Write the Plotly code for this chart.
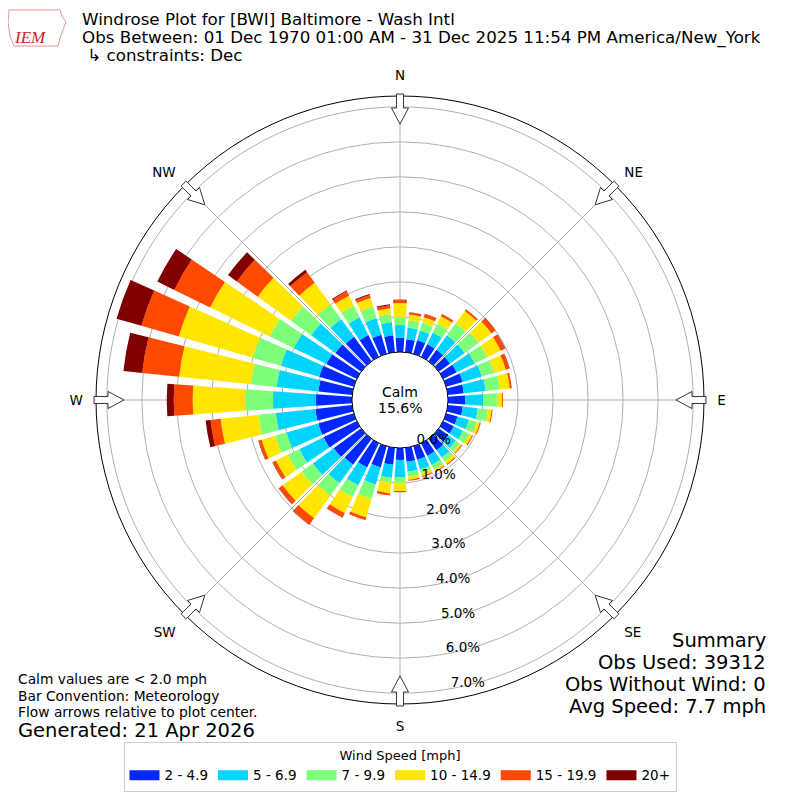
import numpy as np
import plotly.graph_objects as go

# wind direction bins (deg, meteorological) and speed classes
directions = list(range(0, 360, 10))
speed_bins = ['2 - 4.9', '5 - 6.9', '7 - 9.9', '10 - 14.9', '15 - 19.9', '20+']
colors = ['#0028ff', '#00d4ff', '#7dff7a', '#ffe600', '#ff4a00', '#800000']

# frequency (%) per direction for each speed class
spd_2_5 = [0.40, 0.37, 0.40, 0.40, 0.40, 0.40, 0.43, 0.49, 0.46, 0.49, 0.43, 0.34,
           0.34, 0.34, 0.40, 0.40, 0.40, 0.40, 0.34, 0.49, 0.63, 0.77, 0.91, 0.97,
           1.06, 1.06, 1.06, 1.03, 0.97, 1.03, 0.97, 0.91, 0.86, 0.69, 0.57, 0.49]
spd_5_7 = [0.37, 0.34, 0.29, 0.37, 0.51, 0.51, 0.57, 0.57, 0.63, 0.51, 0.43, 0.34,
           0.29, 0.26, 0.26, 0.29, 0.29, 0.29, 0.49, 0.37, 0.51, 0.57, 0.66, 0.74,
           0.77, 0.94, 1.14, 1.23, 1.20, 1.14, 1.03, 0.86, 0.63, 0.57, 0.49, 0.37]
spd_7_10 = [0.23, 0.20, 0.23, 0.29, 0.43, 0.49, 0.40, 0.37, 0.40, 0.40, 0.29, 0.23,
            0.20, 0.14, 0.14, 0.14, 0.11, 0.14, 0.17, 0.14, 0.43, 0.37, 0.43, 0.40,
            0.37, 0.34, 0.49, 0.80, 0.74, 0.83, 0.77, 0.71, 0.51, 0.37, 0.34, 0.23]
spd_10_15 = [0.40, 0.17, 0.17, 0.23, 0.43, 0.46, 0.43, 0.34, 0.29, 0.14, 0.11, 0.09,
             0.09, 0.06, 0.09, 0.06, 0.09, 0.09, 0.23, 0.31, 0.54, 0.51, 0.80, 0.66,
             0.37, 0.40, 1.09, 1.49, 2.06, 2.20, 1.89, 1.17, 0.77, 0.31, 0.26, 0.17]
spd_15_20 = [0.09, 0.06, 0.09, 0.06, 0.06, 0.14, 0.14, 0.11, 0.06, 0.03, 0.03, 0.03,
             0.03, 0.03, 0.03, 0.03, 0.03, 0.03, 0.03, 0.06, 0.09, 0.14, 0.23, 0.14,
             0.11, 0.09, 0.29, 0.54, 1.06, 1.11, 1.14, 0.74, 0.37, 0.14, 0.09, 0.09]
spd_20p = [0.01, 0.01, 0.01, 0.01, 0.00, 0.01, 0.01, 0.01, 0.00, 0.00, 0.00, 0.00,
           0.00, 0.00, 0.00, 0.00, 0.00, 0.00, 0.00, 0.00, 0.00, 0.01, 0.01, 0.01,
           0.01, 0.01, 0.14, 0.20, 0.54, 0.74, 0.54, 0.31, 0.09, 0.03, 0.03, 0.03]
series = [spd_2_5, spd_5_7, spd_7_10, spd_10_15, spd_15_20, spd_20p]

ring_vals = [0, 1, 2, 3, 4, 5, 6, 7]
ring_text = ['%.1f%%<br> ' % v for v in ring_vals]
compass_deg = [0, 45, 90, 135, 180, 225, 270, 315]
compass_txt = ['N', 'NE', 'E', 'SE', 'S', 'SW', 'W', 'NW']
calm_pct = 15.6

FONT = 'DejaVu Sans'
W = 792  # page body has an 8px margin


def px(x):
    return (x - 8) / W


def py(y):
    return 1 - (y - 8) / W


fig = go.Figure()
for name, vals, col in zip(speed_bins, series, colors):
    fig.add_trace(go.Barpolar(r=vals, theta=directions, name=name, width=8,
                              marker=dict(color=col, line=dict(width=0)),
                              showlegend=False))
# wide legend swatches
for name, col in zip(speed_bins, colors):
    fig.add_trace(go.Scatterpolar(r=[None], theta=[None], mode='lines', name=name,
                                  line=dict(color=col, width=10)))

fig.update_layout(
    width=W, height=W,
    margin=dict(l=0, r=0, t=0, b=0),
    paper_bgcolor='white',
    font=dict(family=FONT, size=13, color='black'),
    barmode='stack',
    polar=dict(
        domain=dict(x=[px(96), px(704)], y=[py(704), py(96)]),
        bgcolor='white',
        hole=0.158,
        radialaxis=dict(range=[0, 7.31], tickvals=ring_vals, ticktext=ring_text,
                        angle=-82, tickangle=-82, side='counterclockwise',
                        showline=False, ticks='',
                        gridcolor='#b0b0b0', gridwidth=1, layer='above traces',
                        tickfont=dict(size=13.5)),
        angularaxis=dict(rotation=90, direction='clockwise',
                         tickvals=compass_deg, ticktext=compass_txt,
                         ticks='outside', ticklen=10, tickcolor='rgba(0,0,0,0)',
                         showline=True, linecolor='black', linewidth=1,
                         gridcolor='#b0b0b0', gridwidth=1, layer='above traces',
                         tickfont=dict(size=13.5)),
    ),
    legend=dict(orientation='h', x=px(400), xanchor='center', y=py(742), yanchor='top',
                title=dict(text='Wind Speed [mph]', side='top center', font=dict(size=13)),
                bordercolor='#cccccc', borderwidth=1, font=dict(size=13.5),
                itemwidth=30, traceorder='normal'),
)

# hollow flow arrows at the compass points
shapes = []
for d in compass_deg:
    a = np.radians(d)
    u = np.array([np.sin(a), -np.cos(a)])
    p = np.array([np.cos(a), np.sin(a)])
    pts = [(276, 0), (292, 8.5), (292, 3.5), (306, 3.5), (306, -3.5), (292, -3.5), (292, -8.5)]
    xy = [np.array([400, 400]) + r * u + w * p for r, w in pts]
    path = 'M ' + ' L '.join('%.4f %.4f' % (px(q[0]), py(q[1])) for q in xy) + ' Z'
    shapes.append(dict(type='path', path=path, xref='paper', yref='paper',
                       fillcolor='white', line=dict(color='#333333', width=1)))

# rough outline of the IEM logo (Iowa shape)
logo = [(9, 10), (60, 10), (62, 16), (66, 22), (63, 30), (60, 38), (58, 46), (14, 46), (10, 36), (8, 22)]
shapes.append(dict(type='path', xref='paper', yref='paper',
                   path='M ' + ' L '.join('%.4f %.4f' % (px(x), py(y)) for x, y in logo) + ' Z',
                   line=dict(color='#d99a9a', width=1)))
fig.update_layout(shapes=shapes)


def txt(s, x, y, size, xanchor='left', **kw):
    return dict(text=s, x=px(x), y=py(y), xanchor=xanchor, yanchor='middle',
                xref='paper', yref='paper', showarrow=False, font=dict(size=size, **kw))


ann = [
    txt('Windrose Plot for [BWI] Baltimore - Wash Intl', 80, 19, 16.7),
    txt('Obs Between: 01 Dec 1970 01:00 AM - 31 Dec 2025 11:54 PM America/New_York', 80, 37, 16.7),
    txt(' ↳ constraints: Dec', 80, 55, 16.7),
    txt('<i>IEM</i>', 30, 38, 17, xanchor='center', family='Liberation Serif', color='#d02020'),
    txt('Calm', 400, 392, 14, xanchor='center'),
    txt('%.1f%%' % calm_pct, 400, 408, 14, xanchor='center'),
    txt('Calm values are < 2.0 mph', 16, 679, 13.8),
    txt('Bar Convention: Meteorology', 16, 696, 13.8),
    txt('Flow arrows relative to plot center.', 16, 712, 13.8),
    txt('Generated: 21 Apr 2026', 16, 730, 19.5),
    txt('Summary', 768, 640, 19.5, xanchor='right'),
    txt('Obs Used: 39312', 768, 662, 19.5, xanchor='right'),
    txt('Obs Without Wind: 0', 768, 684, 19.5, xanchor='right'),
    txt('Avg Speed: 7.7 mph', 768, 706, 19.5, xanchor='right'),
]
fig.update_layout(annotations=ann)

fig.write_html("out.html")
